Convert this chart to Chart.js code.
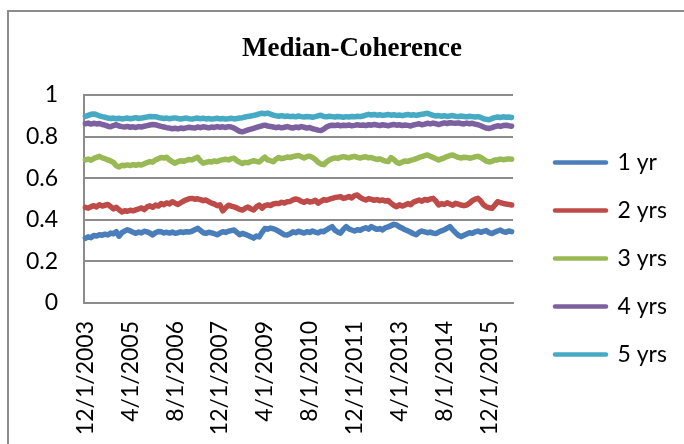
<!DOCTYPE html>
<html>
<head>
<meta charset="utf-8">
<script src="https://cdn.jsdelivr.net/npm/chart.js@4/dist/chart.umd.min.js"></script>
<style>
html,body{margin:0;padding:0;background:#fff;}
#wrap{position:relative;width:684px;height:444px;overflow:hidden;background:#fff;}
#frame{position:absolute;left:7px;top:10px;width:800px;height:600px;border-left:2px solid #8c8c8c;border-top:2px solid #8c8c8c;}
canvas{position:absolute;left:0;top:0;}
</style>
</head>
<body>
<div id="wrap"><div id="frame"></div><canvas id="c" width="684" height="444"></canvas></div>
<script>
// Categories: monthly observations starting 12/1/2003
const firstMonth = 12, firstYear = 2003, monthCount = 153;
const categories = [];
for (let k = 0; k < monthCount; k++) {
  const m = ((firstMonth - 1 + k) % 12) + 1;
  const y = firstYear + Math.floor((firstMonth - 1 + k) / 12);
  categories.push(m + '/1/' + y);
}
const tickEvery = 16; // one shown label every 16 months

const seriesNames = ['1 yr', '2 yrs', '3 yrs', '4 yrs', '5 yrs'];
const seriesColors = ['#4A7EBB', '#BE4B48', '#98B954', '#7D60A0', '#46AAC5'];

const yr1 = [
0.311,0.318,0.314,0.325,0.322,0.328,0.326,0.331,0.327,0.336,
0.333,0.343,0.321,0.338,0.346,0.352,0.347,0.340,0.335,0.341,
0.337,0.345,0.342,0.336,0.327,0.338,0.344,0.343,0.337,0.340,
0.336,0.341,0.335,0.338,0.342,0.339,0.343,0.341,0.345,0.352,
0.359,0.349,0.338,0.335,0.340,0.337,0.333,0.328,0.336,0.343,
0.339,0.345,0.348,0.351,0.340,0.328,0.335,0.330,0.324,0.318,
0.312,0.322,0.318,0.340,0.358,0.355,0.360,0.357,0.352,0.344,
0.336,0.328,0.327,0.333,0.342,0.338,0.345,0.341,0.336,0.343,
0.339,0.346,0.341,0.337,0.345,0.343,0.352,0.360,0.367,0.350,
0.341,0.336,0.354,0.367,0.356,0.351,0.346,0.352,0.350,0.357,
0.362,0.355,0.367,0.360,0.354,0.358,0.351,0.362,0.366,0.372,
0.378,0.375,0.366,0.360,0.352,0.347,0.340,0.333,0.328,0.340,
0.346,0.342,0.338,0.341,0.336,0.334,0.341,0.347,0.352,0.360,
0.367,0.352,0.338,0.326,0.319,0.326,0.332,0.338,0.335,0.342,
0.346,0.340,0.344,0.348,0.338,0.334,0.341,0.346,0.351,0.343,
0.340,0.346,0.343];

const yrs2 = [
0.460,0.456,0.463,0.468,0.462,0.472,0.466,0.470,0.474,0.463,
0.452,0.460,0.448,0.438,0.444,0.441,0.446,0.443,0.448,0.452,
0.457,0.449,0.462,0.467,0.460,0.471,0.466,0.478,0.473,0.481,
0.476,0.487,0.480,0.474,0.482,0.490,0.496,0.501,0.503,0.499,
0.501,0.497,0.492,0.495,0.487,0.480,0.476,0.468,0.472,0.443,
0.458,0.470,0.466,0.462,0.457,0.450,0.447,0.455,0.461,0.453,
0.447,0.462,0.471,0.456,0.468,0.472,0.469,0.476,0.479,0.478,
0.484,0.481,0.487,0.488,0.496,0.500,0.497,0.489,0.484,0.491,
0.486,0.488,0.494,0.480,0.489,0.497,0.494,0.499,0.503,0.507,
0.509,0.511,0.503,0.506,0.512,0.505,0.516,0.519,0.508,0.500,
0.495,0.502,0.498,0.494,0.497,0.492,0.495,0.490,0.493,0.480,
0.470,0.463,0.472,0.466,0.471,0.478,0.472,0.485,0.490,0.495,
0.489,0.498,0.494,0.500,0.503,0.490,0.471,0.477,0.474,0.482,
0.476,0.470,0.479,0.475,0.471,0.468,0.471,0.480,0.492,0.499,
0.503,0.490,0.472,0.462,0.458,0.455,0.470,0.487,0.483,0.479,
0.476,0.474,0.471];

const yrs3 = [
0.688,0.692,0.686,0.695,0.700,0.705,0.698,0.694,0.688,0.683,
0.676,0.660,0.654,0.662,0.660,0.664,0.661,0.665,0.662,0.666,
0.663,0.669,0.675,0.680,0.677,0.688,0.694,0.700,0.697,0.701,
0.688,0.679,0.672,0.680,0.684,0.681,0.686,0.690,0.688,0.695,
0.701,0.684,0.672,0.676,0.680,0.678,0.683,0.680,0.686,0.689,
0.691,0.688,0.694,0.696,0.685,0.677,0.671,0.676,0.674,0.680,
0.684,0.681,0.678,0.690,0.701,0.688,0.684,0.679,0.692,0.700,
0.694,0.697,0.702,0.699,0.704,0.707,0.709,0.703,0.697,0.704,
0.706,0.700,0.690,0.677,0.668,0.665,0.678,0.688,0.694,0.698,
0.695,0.700,0.704,0.701,0.698,0.702,0.705,0.700,0.697,0.701,
0.703,0.698,0.700,0.694,0.690,0.693,0.687,0.682,0.680,0.699,
0.690,0.677,0.671,0.678,0.683,0.681,0.686,0.689,0.694,0.700,
0.704,0.708,0.712,0.706,0.700,0.694,0.688,0.693,0.698,0.704,
0.709,0.712,0.706,0.700,0.697,0.701,0.700,0.696,0.699,0.703,
0.705,0.700,0.691,0.682,0.678,0.681,0.687,0.688,0.692,0.689,
0.691,0.693,0.691];

const yrs4 = [
0.862,0.865,0.860,0.864,0.861,0.863,0.858,0.855,0.850,0.847,
0.853,0.857,0.851,0.848,0.846,0.849,0.845,0.847,0.844,0.848,
0.846,0.850,0.853,0.856,0.858,0.857,0.853,0.849,0.846,0.843,
0.841,0.838,0.840,0.837,0.841,0.839,0.842,0.845,0.843,0.841,
0.846,0.843,0.847,0.845,0.842,0.846,0.844,0.848,0.845,0.847,
0.844,0.848,0.846,0.841,0.833,0.826,0.823,0.827,0.832,0.836,
0.840,0.844,0.848,0.852,0.855,0.851,0.849,0.846,0.843,0.846,
0.842,0.845,0.848,0.844,0.841,0.846,0.843,0.848,0.845,0.841,
0.844,0.838,0.835,0.831,0.829,0.836,0.846,0.852,0.855,0.853,
0.856,0.852,0.855,0.853,0.856,0.852,0.854,0.857,0.854,0.856,
0.853,0.857,0.855,0.858,0.856,0.853,0.857,0.855,0.852,0.856,
0.858,0.855,0.857,0.853,0.856,0.854,0.851,0.856,0.859,0.862,
0.857,0.860,0.864,0.861,0.865,0.862,0.858,0.862,0.866,0.863,
0.867,0.865,0.864,0.866,0.863,0.861,0.865,0.862,0.864,0.860,
0.857,0.852,0.846,0.841,0.839,0.843,0.848,0.852,0.849,0.853,
0.855,0.852,0.850];

const yrs5 = [
0.897,0.902,0.907,0.909,0.905,0.900,0.896,0.893,0.889,0.887,
0.889,0.886,0.888,0.885,0.887,0.889,0.886,0.888,0.891,0.887,
0.889,0.892,0.894,0.897,0.895,0.896,0.892,0.889,0.887,0.889,
0.886,0.888,0.890,0.887,0.885,0.887,0.889,0.886,0.884,0.887,
0.889,0.886,0.888,0.885,0.887,0.884,0.886,0.888,0.885,0.887,
0.884,0.886,0.888,0.885,0.887,0.889,0.891,0.894,0.897,0.899,
0.902,0.905,0.909,0.912,0.910,0.913,0.908,0.903,0.900,0.898,
0.901,0.897,0.899,0.896,0.898,0.895,0.899,0.896,0.894,0.897,
0.895,0.893,0.896,0.900,0.903,0.897,0.895,0.898,0.896,0.894,
0.897,0.895,0.893,0.896,0.894,0.897,0.895,0.898,0.896,0.899,
0.903,0.907,0.904,0.906,0.903,0.905,0.902,0.904,0.906,0.903,
0.905,0.902,0.904,0.901,0.904,0.906,0.903,0.905,0.902,0.905,
0.907,0.910,0.912,0.907,0.902,0.899,0.901,0.898,0.900,0.897,
0.899,0.901,0.898,0.896,0.899,0.897,0.895,0.898,0.896,0.894,
0.896,0.892,0.886,0.883,0.881,0.887,0.891,0.894,0.892,0.895,
0.893,0.894,0.892];

const yTickMin = 0, yTickMax = 1, yTickStep = 0.2;

const seriesValues = [yr1, yrs2, yrs3, yrs4, yrs5];
const datasets = seriesValues.map((vals, k) => ({
  label: seriesNames[k],
  data: vals,
  borderColor: seriesColors[k],
  backgroundColor: seriesColors[k],
  borderWidth: 5.5,
  borderCapStyle: 'round',
  borderJoinStyle: 'round',
  pointRadius: 0,
  tension: 0,
  fill: false
}));

const tickFont = {family: 'Lato', size: 23};
const gridGray = '#8c8c8c';
const padLeft = 20;
const plotLeft = 84, plotRight = 513, innerGap = 17;

new Chart(document.getElementById('c'), {
  type: 'line',
  data: {labels: categories, datasets: datasets},
  options: {
    responsive: false,
    animation: false,
    devicePixelRatio: 1,
    layout: {padding: {left: padLeft, right: 0, top: 0, bottom: 0}},
    plugins: {
      title: {
        display: true,
        text: 'Median-Coherence',
        color: '#000',
        font: {family: '"Liberation Serif", "Times New Roman", serif', size: 27, weight: 'bold', lineHeight: 1.2},
        padding: {top: 32.5, bottom: 30.1}
      },
      legend: {
        position: 'right',
        align: 'start',
        maxWidth: 400,
        title: {display: true, text: '', font: {size: 10, lineHeight: 1.2}, padding: {top: 114, bottom: 0}},
        labels: {
          usePointStyle: true,
          pointStyle: 'line',
          pointStyleWidth: 51,
          padding: 25,
          color: '#000',
          font: tickFont,
          generateLabels: (chart) => Chart.defaults.plugins.legend.labels.generateLabels(chart).map(l => Object.assign(l, {lineWidth: 4.5, lineCap: 'round'}))
        }
      },
      tooltip: {enabled: false}
    },
    scales: {
      x: {
        type: 'category',
        offset: true,
        grid: {display: false, drawTicks: false},
        border: {display: true, color: gridGray, width: 2},
        ticks: {
          autoSkip: false,
          minRotation: 90,
          maxRotation: 90,
          padding: 18,
          color: '#000',
          font: tickFont,
          callback: (v, i) => (i % tickEvery === 0 ? categories[i] : '')
        },
        afterFit: (s) => { s.height = 141; }
      },
      y: {
        min: yTickMin,
        max: yTickMax,
        ticks: {stepSize: yTickStep, padding: 26, color: '#000', font: tickFont,
          callback: (v) => String(Math.round(v * 10) / 10)},
        grid: {color: gridGray, lineWidth: 2, drawTicks: false},
        border: {display: true, color: gridGray, width: 2},
        afterFit: (s) => { s.width = plotLeft - padLeft; }
      },
      gapInner: {
        position: 'right',
        weight: 0,
        display: true,
        grid: {display: false, drawTicks: false},
        border: {display: false},
        ticks: {display: false},
        afterFit: (s) => { s.width = innerGap; }
      },
      gapOuter: {
        position: 'right',
        weight: 2000,
        display: true,
        grid: {display: false, drawTicks: false},
        border: {display: false},
        ticks: {display: false},
        afterFit: (s) => {
          const lw = s.chart.legend ? s.chart.legend.width : 140;
          s.width = Math.max(0, (684 - plotRight) - innerGap - lw);
        }
      }
    }
  }
});
</script>
</body>
</html>
